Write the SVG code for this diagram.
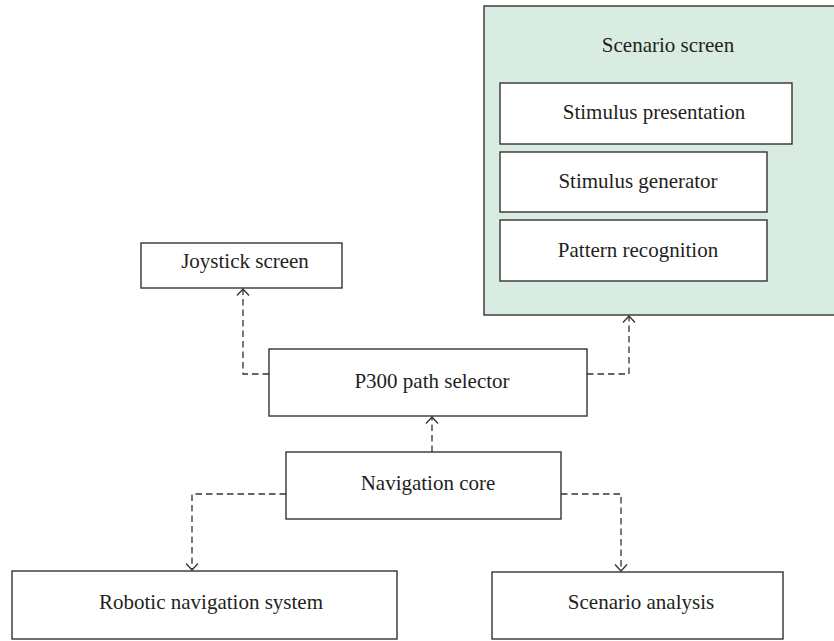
<svg xmlns="http://www.w3.org/2000/svg" width="834" height="641" viewBox="0 0 834 641">
<defs>
<style>
.box{fill:#ffffff;stroke:#333333;stroke-width:1.4}
.grp{fill:#d9ece1;stroke:#333333;stroke-width:1.4}
.lbl{font-family:"Liberation Serif","Times New Roman",serif;font-size:21px;fill:#231f20;text-anchor:middle}
.conn{fill:none;stroke:#333333;stroke-width:1.3;stroke-dasharray:6.5 4}
</style>
<marker id="arr" viewBox="0 0 14 14" refX="13" refY="7" markerWidth="14" markerHeight="14" markerUnits="userSpaceOnUse" orient="auto">
<path d="M6.5,1 L13,7 L6.5,13" fill="none" stroke="#333333" stroke-width="1.3"/>
</marker>
</defs>
<rect width="834" height="641" fill="#ffffff"/>
<g id="scenario-screen">
<rect class="grp" x="484" y="6" width="352" height="309"/>
<text class="lbl" x="668" y="52">Scenario screen</text>
</g>
<g id="stimulus-presentation">
<rect class="box" x="500" y="83" width="292" height="61"/>
<text class="lbl" x="654" y="119">Stimulus presentation</text>
</g>
<g id="stimulus-generator">
<rect class="box" x="500" y="152" width="267" height="60"/>
<text class="lbl" x="638" y="188">Stimulus generator</text>
</g>
<g id="pattern-recognition">
<rect class="box" x="500" y="220" width="267" height="61"/>
<text class="lbl" x="638" y="257">Pattern recognition</text>
</g>
<g id="joystick-screen">
<rect class="box" x="141" y="243" width="201" height="45"/>
<text class="lbl" x="245" y="268">Joystick screen</text>
</g>
<g id="p300-path-selector">
<rect class="box" x="269" y="349" width="318" height="67"/>
<text class="lbl" x="432" y="388">P300 path selector</text>
</g>
<g id="navigation-core">
<rect class="box" x="286" y="452" width="275" height="67"/>
<text class="lbl" x="428" y="490">Navigation core</text>
</g>
<g id="robotic-navigation-system">
<rect class="box" x="12" y="571" width="385" height="68"/>
<text class="lbl" x="211" y="609">Robotic navigation system</text>
</g>
<g id="scenario-analysis">
<rect class="box" x="492" y="572" width="291" height="67"/>
<text class="lbl" x="641" y="609">Scenario analysis</text>
</g>
<g id="connectors">
<path class="conn" d="M269,374 H243 V289" marker-end="url(#arr)"/>
<path class="conn" d="M587,374 H629 V316" marker-end="url(#arr)"/>
<path class="conn" d="M432,452 V417" marker-end="url(#arr)"/>
<path class="conn" d="M286,494 H192 V570" marker-end="url(#arr)"/>
<path class="conn" d="M561,494 H621 V571" marker-end="url(#arr)"/>
</g>
</svg>
